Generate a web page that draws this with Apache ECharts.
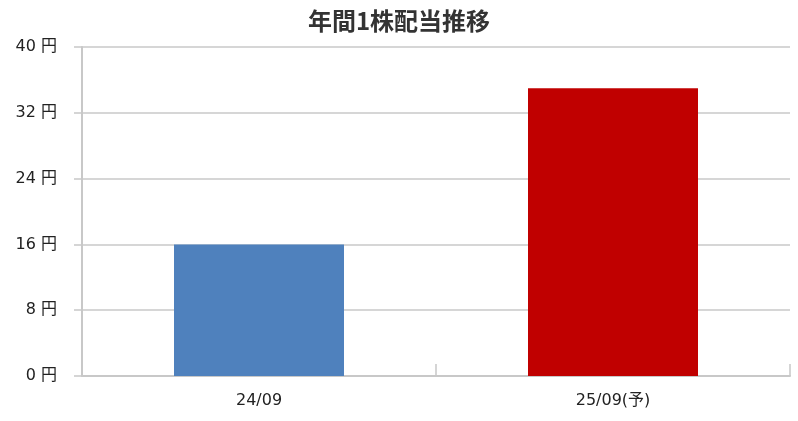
<!DOCTYPE html>
<html><head><meta charset="utf-8">
<script src="https://cdn.jsdelivr.net/npm/echarts@6/dist/echarts.min.js"></script>
<style>html,body{margin:0;padding:0;background:#fff}#c{width:798px;height:421px}</style>
</head><body><div id="c"></div>
<script>
const categories = ['24/09', '25/09(予)'];
const dividends = [16, 35];
const barColors = ['#4F81BD', '#C00000'];
const yTicks = { min: 0, max: 40, interval: 8, unit: '円' };
const titleText = '年間1株配当推移';

const FONT = '"DejaVu Sans", "Noto Sans CJK JP", sans-serif';
const chart = echarts.init(document.getElementById('c'), null, {renderer: 'canvas'});
chart.setOption({
  animation: false,
  backgroundColor: '#fff',
  title: {
    text: titleText, left: 'center', top: 4,
    textStyle: { fontFamily: '"Noto Sans CJK JP", sans-serif', fontSize: 24, fontWeight: 'bold', color: '#333' }
  },
  grid: { left: 82, right: 8, top: 47, bottom: 45, containLabel: false },
  xAxis: {
    type: 'category', data: categories,
    axisLine: { lineStyle: { color: '#c8c8c8', width: 2 } },
    axisTick: { show: true, inside: true, length: 12, lineStyle: { color: '#c8c8c8', width: 1.5 } },
    axisLabel: { fontFamily: FONT, fontSize: 16, color: '#222', margin: 17 }
  },
  yAxis: {
    type: 'value', min: yTicks.min, max: yTicks.max, interval: yTicks.interval,
    axisLine: { show: true, lineStyle: { color: '#c8c8c8', width: 2 } },
    axisTick: { show: true, length: 8, lineStyle: { color: '#c8c8c8', width: 1.5 } },
    splitLine: { lineStyle: { color: '#c8c8c8', width: 1.5 } },
    axisLabel: { fontFamily: FONT, fontSize: 16, color: '#222', margin: 25,
      formatter: v => v + ' ' + yTicks.unit }
  },
  series: [{
    type: 'bar', barWidth: 170,
    data: dividends.map((v, i) => ({ value: v, itemStyle: { color: barColors[i] } }))
  }]
});
</script></body></html>
